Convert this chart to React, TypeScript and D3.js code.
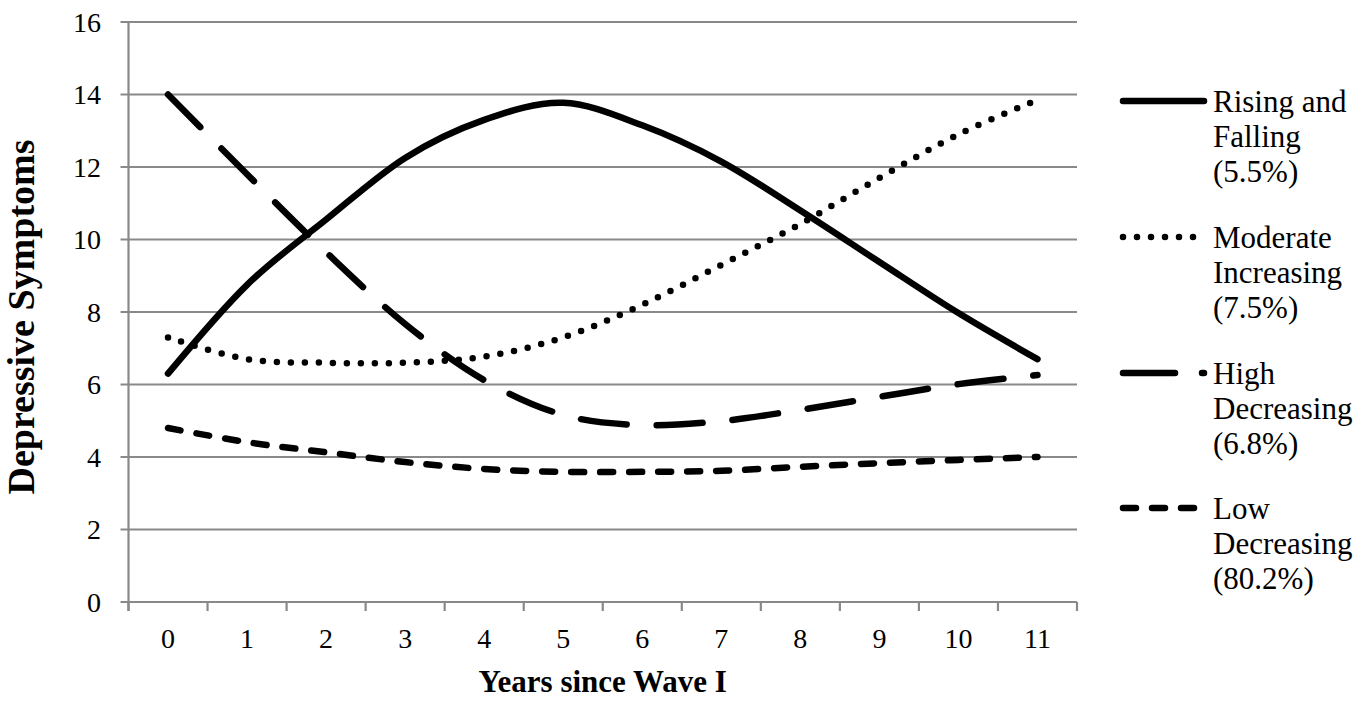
import React, { useEffect, useRef } from "react";
import * as d3 from "d3";

const years = ["0", "1", "2", "3", "4", "5", "6", "7", "8", "9", "10", "11"];
const risingFalling = [6.3, 8.75, 10.55, 12.25, 13.3, 13.77, 13.15, 12.15, 10.8, 9.38, 7.97, 6.7];
const moderateIncreasing = [7.3, 6.7, 6.6, 6.6, 6.77, 7.3, 8.2, 9.3, 10.43, 11.7, 12.9, 13.85];
const highDecreasing = [14.0, 11.8, 9.65, 7.67, 6.12, 5.16, 4.88, 4.99, 5.3, 5.66, 6.01, 6.26];
const lowDecreasing = [4.8, 4.41, 4.13, 3.86, 3.67, 3.59, 3.59, 3.62, 3.73, 3.83, 3.92, 4.0];
const yTicks = [0, 2, 4, 6, 8, 10, 12, 14, 16];

const seriesNames = [
  ["Rising and", "Falling", "(5.5%)"],
  ["Moderate", "Increasing", "(7.5%)"],
  ["High", "Decreasing", "(6.8%)"],
  ["Low", "Decreasing", "(80.2%)"],
];
const seriesValues = [risingFalling, moderateIncreasing, highDecreasing, lowDecreasing];
const seriesDash = ["none", "0,14", "46,30", "13,16"];

const W = 1371;
const H = 702;

export default function App() {
  const ref = useRef<SVGSVGElement | null>(null);

  useEffect(() => {
    const svg = d3.select(ref.current);
    svg.selectAll("*").remove();
    const font = "'Times New Roman', Tinos, 'Liberation Serif', Times, 'Nimbus Roman', 'Noto Serif', 'DejaVu Serif', serif";
    const left = 128.5, right = 1077, top = 22, bottom = 602;

    const x = d3.scaleBand<string>().domain(years).range([left, right]).padding(0);
    const y = d3.scaleLinear().domain([0, 16]).range([bottom, top]);
    const grid = "#898989";

    svg.append("g")
      .selectAll("line")
      .data(yTicks)
      .join("line")
      .attr("x1", left - 8)
      .attr("x2", right)
      .attr("y1", (d) => y(d))
      .attr("y2", (d) => y(d))
      .attr("stroke", grid)
      .attr("stroke-width", 2.2);

    svg.append("line")
      .attr("x1", left).attr("x2", left)
      .attr("y1", top).attr("y2", bottom + 9)
      .attr("stroke", grid).attr("stroke-width", 2.2);

    const bounds = years.map((d) => x(d) as number).concat([right]);
    svg.append("g")
      .selectAll("line")
      .data(bounds)
      .join("line")
      .attr("x1", (d) => d).attr("x2", (d) => d)
      .attr("y1", bottom).attr("y2", bottom + 9)
      .attr("stroke", grid).attr("stroke-width", 2.2);

    svg.append("g")
      .selectAll("text")
      .data(yTicks)
      .join("text")
      .attr("x", 101)
      .attr("y", (d) => y(d) + 9.5)
      .attr("text-anchor", "end")
      .style("font-family", font)
      .attr("font-size", 28)
      .attr("fill", "#000")
      .text((d) => String(d));

    svg.append("g")
      .selectAll("text")
      .data(years)
      .join("text")
      .attr("x", (d) => (x(d) as number) + x.bandwidth() / 2)
      .attr("y", 648)
      .attr("text-anchor", "middle")
      .style("font-family", font)
      .attr("font-size", 28)
      .attr("fill", "#000")
      .text((d) => d);

    svg.append("text")
      .attr("x", (left + right) / 2)
      .attr("y", 692)
      .attr("text-anchor", "middle")
      .style("font-family", font)
      .attr("font-weight", "bold")
      .attr("font-size", 31)
      .text("Years since Wave I");

    svg.append("text")
      .attr("transform", `translate(34, ${(top + bottom) / 2 + 5}) rotate(-90)`)
      .attr("text-anchor", "middle")
      .style("font-family", font)
      .attr("font-weight", "bold")
      .attr("font-size", 38)
      .text("Depressive Symptoms");

    const line = d3
      .line<number>()
      .x((_, i) => (x(years[i]) as number) + x.bandwidth() / 2)
      .y((d) => y(d))
      .curve(d3.curveCardinal.tension(0));

    seriesValues.forEach((vals, k) => {
      svg.append("path")
        .datum(vals)
        .attr("d", line)
        .attr("fill", "none")
        .attr("stroke", "#000")
        .attr("stroke-width", 6.5)
        .attr("stroke-linecap", "round")
        .attr("stroke-linejoin", "round")
        .attr("stroke-dasharray", seriesDash[k]);
    });

    const legY = [101, 237, 373, 508];
    seriesNames.forEach((lines, k) => {
      const g = svg.append("g");
      g.append("line")
        .attr("x1", 1123).attr("x2", 1204)
        .attr("y1", legY[k]).attr("y2", legY[k])
        .attr("stroke", "#000")
        .attr("stroke-width", 6.5)
        .attr("stroke-linecap", "round")
        .attr("stroke-dasharray", k === 2 ? "52,27" : seriesDash[k]);
      lines.forEach((t, j) => {
        g.append("text")
          .attr("x", 1213)
          .attr("y", legY[k] + 11 + j * 35)
          .style("font-family", font)
          .attr("font-size", 31)
          .attr("fill", "#000")
          .text(t);
      });
    });
  }, []);

  return (
    <svg
      ref={ref}
      width={W}
      height={H}
      style={{ position: "absolute", left: 0, top: 0, background: "#fff" }}
    />
  );
}
